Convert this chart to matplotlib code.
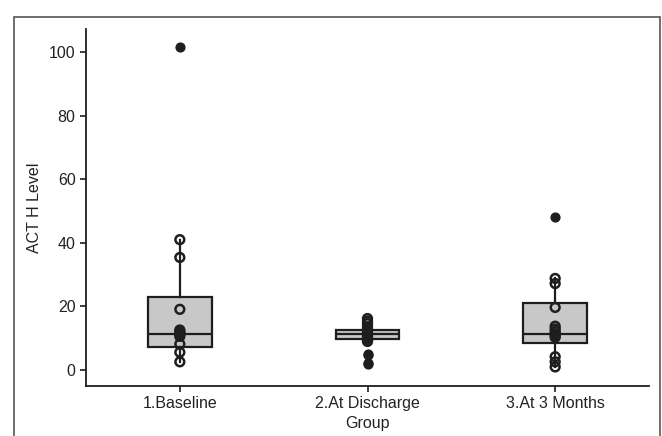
import numpy as np
import matplotlib
matplotlib.use("Agg")
import matplotlib.pyplot as plt
from matplotlib.patches import Rectangle

plt.rcParams['font.family'] = ['Liberation Sans Narrow', 'Liberation Sans', 'DejaVu Sans']

# ---- data ----
groups = ["1.Baseline", "2.At Discharge", "3.At 3 Months"]
q1 = [7.3, 9.8, 8.4]
med = [11.2, 11.2, 11.3]
q3 = [23.0, 12.5, 21.2]
whislo = [2.6, 9.8, 1.0]
whishi = [41.0, 12.5, 28.8]

# open circles (individual values)
pts_base = [41.0, 35.4, 19.1, 12.6, 12.1, 11.6, 11.1, 10.6, 8.2, 5.6, 2.6]
pts_dis = [16.2, 15.4, 14.6, 13.6, 12.8, 12.2, 11.6, 11.0, 10.5, 10.0, 9.4, 9.0]
pts_3m = [28.8, 27.2, 19.7, 13.8, 12.9, 12.1, 11.4, 10.8, 10.3, 4.2, 2.6, 1.0]
# filled (extreme) values
ext_base = [101.5]
ext_dis = [5.2, 4.8, 2.2, 1.8]
ext_3m = [48.2]

points = [pts_base, pts_dis, pts_3m]
extremes = [ext_base, ext_dis, ext_3m]

W, H = 662, 436
fig = plt.figure(figsize=(W / 100, H / 100), dpi=100)
ax = fig.add_axes([86 / W, 1 - 386 / H, (649 - 86) / W, (386 - 29) / H])

dark = "#1e1e1e"
stats = [dict(q1=q1[i], med=med[i], q3=q3[i], whislo=whislo[i], whishi=whishi[i],
              fliers=[], label=groups[i]) for i in range(3)]
ax.bxp(stats, positions=range(3), widths=0.34, patch_artist=True, showcaps=False,
       boxprops=dict(facecolor="#c8c8c8", edgecolor=dark, linewidth=1.6),
       whiskerprops=dict(color=dark, linewidth=1.6),
       medianprops=dict(color=dark, linewidth=1.6))

for i in range(3):
    ax.scatter([i] * len(points[i]), points[i], s=40, facecolors="none",
               edgecolors=dark, linewidths=1.8, zorder=5)
    ax.scatter([i] * len(extremes[i]), extremes[i], s=40, color=dark, zorder=5)

ax.set_xlim(-0.5, 2.5)
ax.set_ylim(-5, 107.2)
ax.set_yticks([0, 20, 40, 60, 80, 100])
ax.set_xticks(range(3))
ax.set_xticklabels(groups)
for s in ["top", "right"]:
    ax.spines[s].set_visible(False)
for s in ["left", "bottom"]:
    ax.spines[s].set_color(dark)
    ax.spines[s].set_linewidth(1.3)
ax.tick_params(direction="out", length=4, width=1.2, color=dark, labelsize=11.5,
               labelcolor="#222222")
ax.set_ylabel("ACT H Level", fontsize=11.5, color="#222222", labelpad=5)
ax.set_xlabel("Group", fontsize=11.5, color="#222222", labelpad=3)

# outer frame of the figure panel
fig.patches.append(Rectangle((14 / W, -0.1), (660 - 14) / W, 1.1 - 17 / H,
                             transform=fig.transFigure, fill=False,
                             edgecolor="#555555", linewidth=1.2))

fig.savefig("out.png", dpi=100)
